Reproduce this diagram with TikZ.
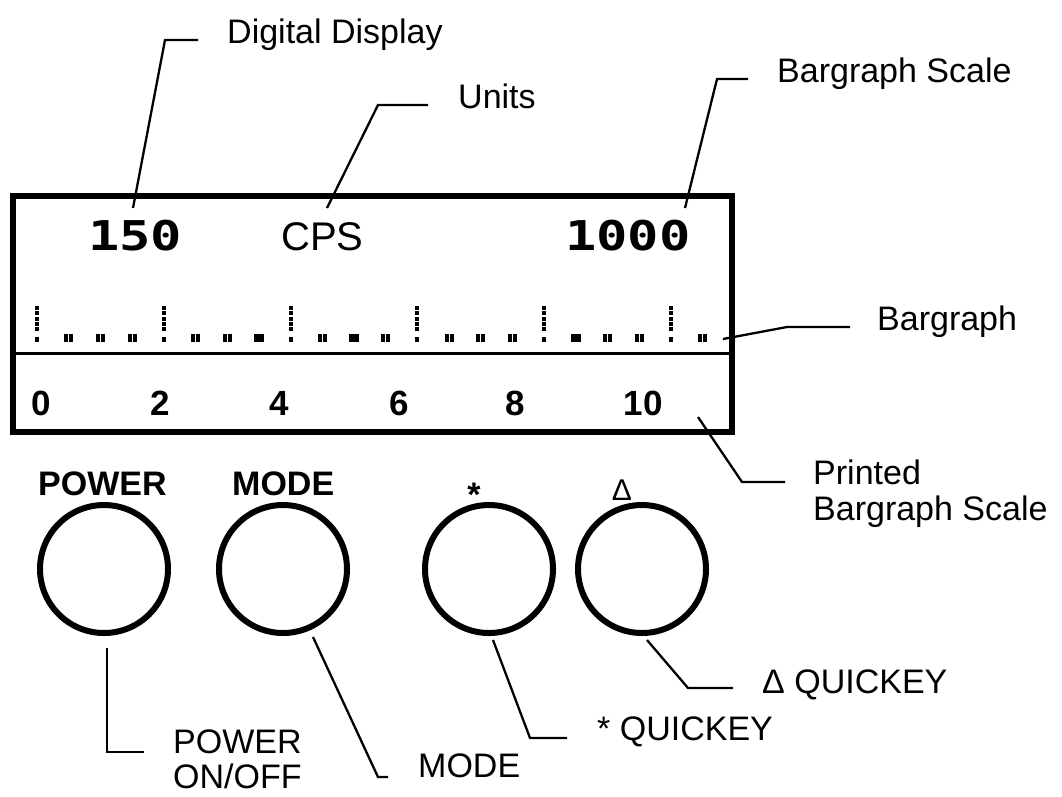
\documentclass[tikz,border=0pt]{standalone}
\usepackage{fontspec}
\setmainfont{Liberation Sans}
\newfontfamily\lcdfont{DejaVu Sans Mono}
\usetikzlibrary{calc}

\begin{document}
\begin{tikzpicture}[
      x=1pt, y=-1pt,
      lbl/.style={font=\fontsize{34}{36}\selectfont, anchor=base west, inner sep=0pt, align=left},
      keylbl/.style={font=\bfseries\fontsize{34}{36}\selectfont, anchor=base west, inner sep=0pt},
      scalelbl/.style={font=\bfseries\fontsize{35}{36}\selectfont, anchor=base, inner sep=0pt},
      lcd/.style={font=\lcdfont\bfseries\fontsize{41}{44}\selectfont, anchor=base west, inner sep=0pt},
      btn/.style={draw, circle, line width=6pt, minimum size=128pt, inner sep=0pt},
      lead/.style={line width=2.3pt},
      bar/.style={line width=4pt, dash pattern=on 4pt off 1.3pt}
    ]
    \useasboundingbox (0,0) rectangle (1062,796);

    % display panel
    \node[draw, line width=6.5pt, minimum width=719pt, minimum height=236pt, inner sep=0pt] (disp) at (372.5,314) {};
    \coordinate (divl) at (13,353);
    \draw[line width=3pt] (disp.west |- divl) -- (disp.east |- divl);

    \node[lcd] (reading) at (88,250) {\scalebox{1.27}[1]{150}};
    \node[lbl, font=\fontsize{40}{44}\selectfont] (units) at (281,250) {CPS};
    \node[lcd] (range) at (565,250) {\scalebox{1.27}[1]{1000}};

    % bargraph segments
    \foreach \i in {0,...,21} {
      \pgfmathsetmacro\x{37+31.7*\i}
      \pgfmathtruncatemacro\r{mod(\i,4)}
      \ifnum\r=0
        \draw[bar] (\x,306) -- (\x,331);
        \fill (\x-2,337) rectangle (\x+2,342);
      \else
        \foreach \dx/\dy in {-4.6/334,0.4/334,-4.6/338.2,0.4/338.2}
          \fill (\x+\dx,\dy) rectangle ++(4.2,3.6);
      \fi
    }

    % printed scale
    \foreach \v/\x in {0/41,2/160,4/279,6/399,8/515,10/643}
      \node[scalelbl] (n\v) at (\x,415) {\v};

    % buttons
    \node[btn] (pwr)   at (104,569) {};
    \node[btn] (mode)  at (283,569) {};
    \node[btn] (star)  at (489,569) {};
    \node[btn] (delta) at (642,569) {};

    \node[keylbl] (pwrkey)  at (38,495)  {POWER};
    \node[keylbl] (modekey) at (232,495) {MODE};
    \node[keylbl, anchor=base] (starkey) at (474,506) {*};
    \node[lbl, anchor=base, font=\fontsize{30}{32}\selectfont] (deltakey) at (622,500) {Δ};

    % callouts
    \node[lbl] (ddlbl)    at (227,43)  {Digital Display};
    \node[lbl] (unitlbl)  at (458,108) {Units};
    \node[lbl] (bslbl)    at (777,82)  {Bargraph Scale};
    \node[lbl] (bglbl)    at (877,330) {Bargraph};
    \node[lbl] (pslbl)    at (813,520) {Printed\\Bargraph Scale};
    \node[lbl, font=\fontsize{34}{35}\selectfont] (pwrlbl) at (173,788) {POWER\\ON/OFF};
    \node[lbl] (modelbl)  at (418,777) {MODE};
    \node[lbl] (starlbl)  at (597,740) {* QUICKEY};
    \node[lbl] (deltalbl) at (762,693) {Δ QUICKEY};

    \coordinate (ddtip)    at (133,208);
    \coordinate (unittip)  at (327,208);
    \coordinate (bstip)    at (685,208);
    \coordinate (bgtip)    at (723,339);
    \coordinate (pstip)    at (698,417);
    \coordinate (pwrtip)   at (107,648);
    \coordinate (modetip)  at (313,637);
    \coordinate (startip)  at (493,640);
    \coordinate (deltatip) at (647,640);

    \draw[lead] (ddtip) -- ($(ddlbl.base west)+(-62,-3)$) -- ($(ddlbl.base west)+(-29,-3)$);
    \draw[lead] (unittip) -- ($(unitlbl.base west)+(-80,-3)$) -- ($(unitlbl.base west)+(-30,-3)$);
    \draw[lead] (bstip) -- ($(bslbl.base west)+(-60,-3)$) -- ($(bslbl.base west)+(-29,-3)$);
    \draw[lead] (bgtip) -- ($(bglbl.base west)+(-90,-3)$) -- ($(bglbl.base west)+(-27,-3)$);
    \draw[lead] (pstip) -- ($(pslbl.base west)+(-71,-38)$) -- ($(pslbl.base west)+(-28,-38)$);
    \draw[lead] (pwrtip) -- ($(pwrlbl.base west)+(-66,-36)$) -- ($(pwrlbl.base west)+(-29,-36)$);
    \draw[lead] (modetip) -- ($(modelbl.base west)+(-40,0)$) -- ($(modelbl.base west)+(-30,0)$);
    \draw[lead] (startip) -- ($(starlbl.base west)+(-67,-2)$) -- ($(starlbl.base west)+(-30,-2)$);
    \draw[lead] (deltatip) -- ($(deltalbl.base west)+(-74,-5)$) -- ($(deltalbl.base west)+(-29,-5)$);
  \end{tikzpicture}
\end{document}
